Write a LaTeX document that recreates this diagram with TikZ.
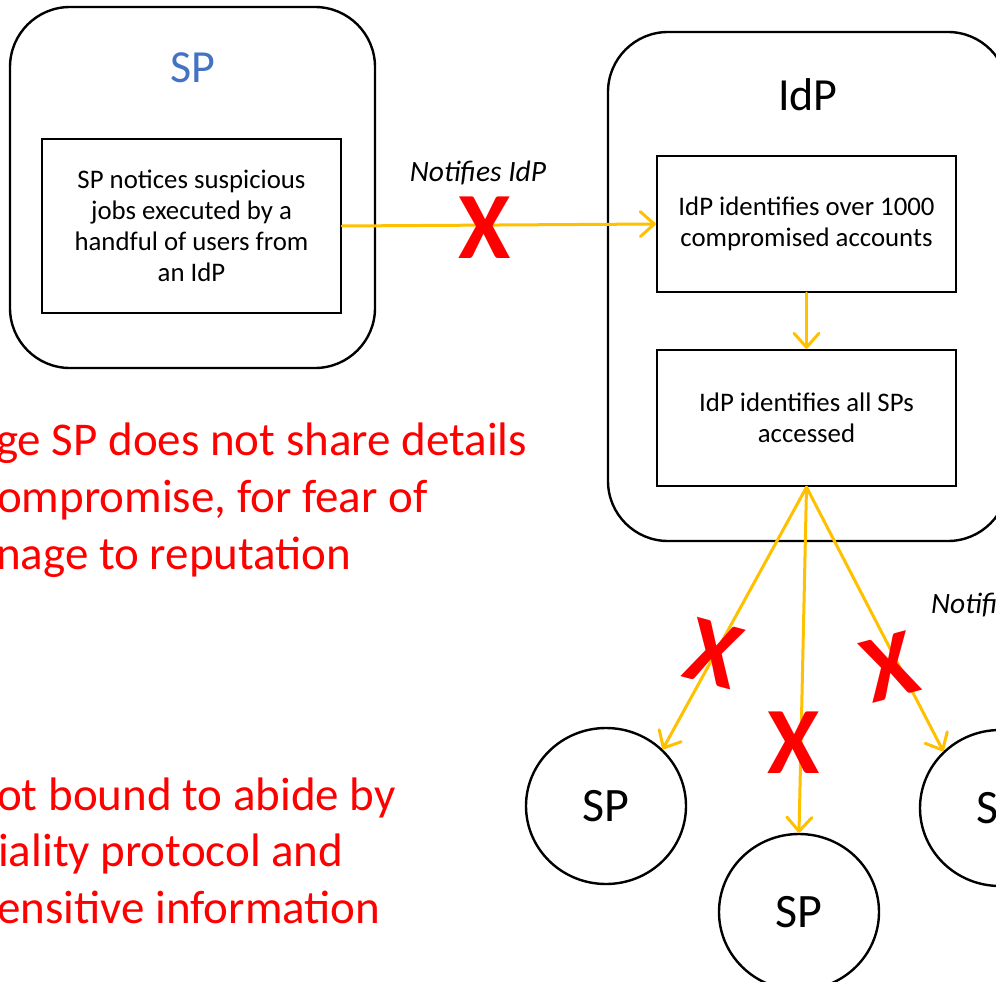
\documentclass[tikz,border=0pt]{standalone}
\usepackage{fontspec}
\setmainfont{Carlito}
\usetikzlibrary{arrows.meta,shapes.geometric}
\definecolor{spblue}{HTML}{4472C4}
\definecolor{flowyellow}{HTML}{FFC000}
\definecolor{alertred}{HTML}{FF0000}

\begin{document}
\begin{tikzpicture}[x=1pt,y=-1pt,
  outer/.style={draw, line width=2.4pt, rounded corners=60pt, inner sep=0pt},
  title/.style={inner sep=0pt, font=\fontsize{46}{46}\selectfont},
  stepbox/.style={draw, line width=2.4pt, align=center, inner sep=0pt,
    font=\fontsize{26.8}{31}\selectfont},
  site/.style={draw, ellipse, line width=2.4pt, inner sep=0pt,
    minimum width=160pt, minimum height=156pt, font=\fontsize{48}{48}\selectfont},
  flow/.style={draw=flowyellow, line width=3pt, line cap=round,
    -{Straight Barb[length=14pt,width=25pt,line cap=round,line join=round]}},
  nox/.style={text=alertred, inner sep=0pt, font=\fontsize{95}{95}\selectfont\bfseries},
  flowlabel/.style={inner sep=0pt, font=\fontsize{29.5}{29.5}\selectfont\itshape},
  note/.style={text=alertred, inner sep=0pt, anchor=base west,
    font=\fontsize{47}{47}\selectfont}
]
\useasboundingbox (0,0) rectangle (996,982);
\clip (0,0) rectangle (996,982);

% service provider
\node[outer, minimum width=365pt, minimum height=361pt] (spbox) at (192.5,187.5) {};
\node[title, text=spblue] (sptitle) at (193,68) {SP};
\node[stepbox, minimum width=299pt, minimum height=174pt] (spnote) at (191.5,226)
  {SP notices suspicious\\jobs executed by a\\handful of users from\\an IdP};

% identity provider
\node[outer, minimum width=400pt, minimum height=509pt] (idpbox) at (808,286.5) {};
\node[title] (idptitle) at (808,95) {IdP};
\node[stepbox, minimum width=299pt, minimum height=136pt] (idp1) at (806.5,224)
  {IdP identifies over 1000\\compromised accounts};
\node[stepbox, minimum width=299pt, minimum height=136pt] (idp2) at (806.5,418)
  {IdP identifies all SPs\\accessed};

% affected service providers
\node[site] (sp1) at (606,806) {SP};
\node[site] (sp2) at (799,912) {SP};
\node[site] (sp3) at (1000,808) {SP};

% notifications
\draw[flow] (spnote.east) -- (idp1.west);
\draw[flow] (idp1.south) -- (idp2.north);
\draw[flow] (idp2.south) -- (sp1.45);
\draw[flow] (idp2.south) -- (sp2.north);
\draw[flow] (idp2.south) -- (sp3.135);

\node[flowlabel] (lblidp) at (478,173) {Notifies IdP};
\node[flowlabel, anchor=west] (lblsps) at (931,605) {Notifies SPs};

% blocked notifications
\node[nox] (xidp) at (485,228) {X};
\node[nox, rotate=-15] (xsp1) at (714,654) {X};
\node[nox] (xsp2) at (794,743) {X};
\node[nox, rotate=15] (xsp3) at (890,667) {X};

% remarks
\node[note] (r1) at (-4,455) {ge SP does not share details};
\node[note] (r2) at (-3,512) {ompromise, for fear of};
\node[note] (r3) at (-4,569) {nage to reputation};
\node[note] (r4) at (-3,810) {ot bound to abide by};
\node[note] (r5) at (-2,866) {iality protocol and};
\node[note] (r6) at (-3,923) {ensitive information};
\end{tikzpicture}
\end{document}
